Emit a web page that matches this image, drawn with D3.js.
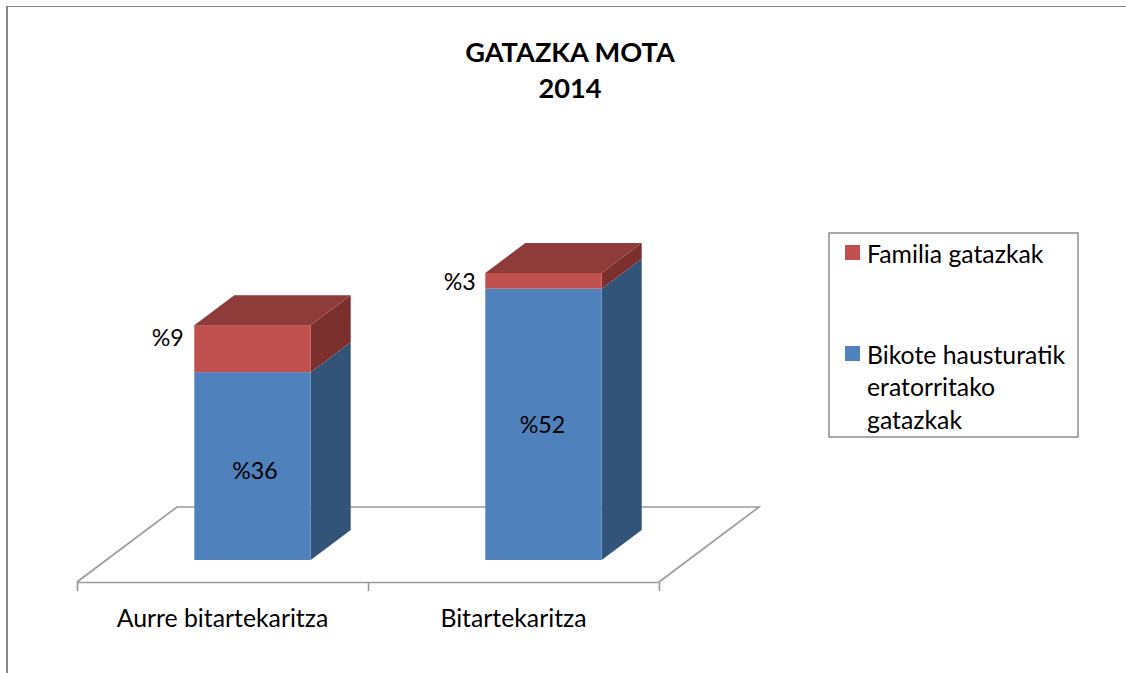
<!DOCTYPE html>
<html><head><meta charset="utf-8">
<style>html,body{margin:0;padding:0;background:#fff}svg{display:block}text{font-family:Lato,"Open Sans",sans-serif;fill:#000}</style>
<script src="https://cdn.jsdelivr.net/npm/d3@7/dist/d3.min.js"></script>
</head><body><svg id="c" width="1126" height="673"></svg>
<script>
const titleLines = ["GATAZKA MOTA", "2014"];
const categories = ["Aurre bitartekaritza", "Bitartekaritza"];
const bikote = [36, 52];
const familia = [9, 3];
const seriesNames = ["Familia gatazkak", ["Bikote hausturatik", "eratorritako", "gatazkak"]];

const W = 1126, H = 673;
const svg = d3.select("#c");
const frame = "#868686", axisC = "#9a9a9a";
svg.append("path").attr("d", `M${W},6.5H7V${H}`).attr("fill","none").attr("stroke",frame).attr("stroke-width",1);
svg.append("rect").attr("x",6).attr("y",6).attr("width",2).attr("height",H-6).attr("fill",frame);

// title
svg.append("g").selectAll("text").data(titleLines).join("text")
  .attr("x",570).attr("y",(d,i)=>62+i*36).attr("text-anchor","middle")
  .attr("font-size",27.2).attr("font-weight",700).text(d=>d);

// scales
const x = d3.scaleBand().domain(categories).range([77,659]);
const y = d3.scaleLinear().domain([0,55]).range([560,273]);
const floorDx = 100, floorDy = 75, floorY = 582;
const barFrac = 0.4;              // bar width over band width
const front = 0.3, back = 0.7;    // bar placement in depth of the floor
const dx = (back-front)*floorDx, dy = (back-front)*floorDy;
const shiftX = front*floorDx;
const barW = x.bandwidth()*barFrac;
const barX = c => x(c)+x.bandwidth()/2-barW/2+shiftX;

// floor
const fx = x.range();
svg.append("path").attr("d",
  `M${fx[0]},${floorY}L${fx[0]+floorDx},${floorY-floorDy}H${fx[1]+floorDx}L${fx[1]},${floorY}`)
  .attr("fill","none").attr("stroke",axisC).attr("stroke-width",1.6);
const tickScale = d3.scaleLinear().domain([0,categories.length]).range(fx);
const axis = svg.append("g").attr("transform",`translate(0,${floorY})`)
  .call(d3.axisBottom(tickScale).tickValues(d3.range(categories.length+1)).tickFormat("").tickSize(9).tickSizeOuter(0));
axis.selectAll("path,line").attr("stroke",axisC).attr("stroke-width",1.6);
svg.append("g").selectAll("text").data(categories).join("text")
  .attr("x",d=>x(d)+x.bandwidth()/2).attr("y",627).attr("text-anchor","middle").attr("font-size",24.8).text(d=>d);

// bars
const palettes = [
  {front:"#4f81bd", side:"#335479", top:"#3f6797"},
  {front:"#c0504d", side:"#7b302e", top:"#8f3b39"}
];
const stacks = d3.stack().keys([0,1]).value((d,k)=>d[k])(categories.map((c,i)=>[bikote[i],familia[i]]));
function box(g,c,v0,v1,p,withTop){
  const l=barX(c), r=l+barW, t=y(v1), b=y(v0);
  g.append("path").attr("d",`M${r},${b}l${dx},${-dy}V${t-dy}L${r},${t}Z`).attr("fill",p.side);
  g.append("rect").attr("x",l).attr("y",t).attr("width",barW).attr("height",b-t).attr("fill",p.front);
  if(withTop) g.append("path").attr("d",`M${l},${t}l${dx},${-dy}H${r+dx}L${r},${t}Z`).attr("fill",p.top);
}
categories.forEach((c,i)=>{
  const g = svg.append("g");
  stacks.forEach((s,k)=>box(g,c,s[i][0],s[i][1],palettes[k],k===stacks.length-1));
});

// value labels
const lblSize = 23.2;
const bikoteNudgeY = [5,1], bikoteNudgeX = [2.5,-1];
svg.append("g").selectAll("text").data(categories).join("text")
  .attr("x",(d,i)=>barX(d)+barW/2+bikoteNudgeX[i]).attr("y",(d,i)=>y(bikote[i]/2)+bikoteNudgeY[i]+8)
  .attr("text-anchor","middle").attr("font-size",lblSize).text((d,i)=>"%"+bikote[i]);
const famY = [346,290], famNudgeX = [-10.5,-9.5];
svg.append("g").selectAll("text").data(categories).join("text")
  .attr("x",(d,i)=>barX(d)+famNudgeX[i]).attr("y",(d,i)=>famY[i])
  .attr("text-anchor","end").attr("font-size",lblSize).text((d,i)=>"%"+familia[i]);

// legend
svg.append("rect").attr("x",829).attr("y",233).attr("width",249).attr("height",204)
  .attr("fill","#fff").attr("stroke","#868686").attr("stroke-width",1.4);
const legendTop = [245,346];
const legendColors = [palettes[1].front,palettes[0].front];
seriesNames.forEach((n,i)=>{
  svg.append("rect").attr("x",845).attr("y",legendTop[i]).attr("width",15).attr("height",15).attr("fill",legendColors[i]);
  [].concat(n).forEach((t,j)=>svg.append("text").attr("x",867).attr("y",legendTop[i]+17.5+j*32.5)
    .attr("font-size",24.8).text(t));
});
</script></body></html>
